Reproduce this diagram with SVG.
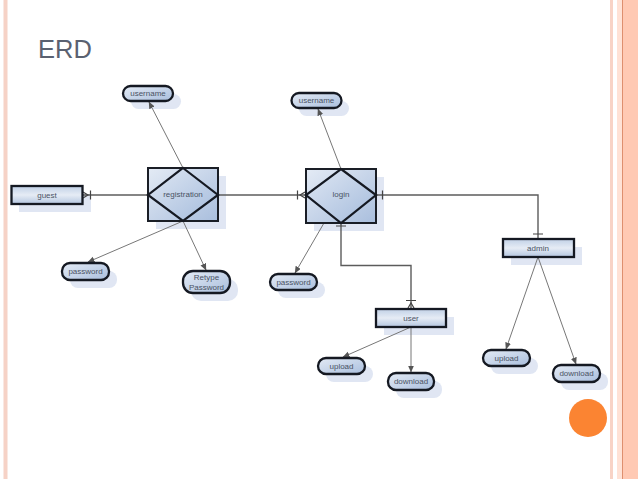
<svg xmlns="http://www.w3.org/2000/svg" width="638" height="479" viewBox="0 0 638 479">
<defs>
<linearGradient id="g" x1="0" y1="0" x2="1" y2="1"><stop offset="0" stop-color="#e4ebf5"/><stop offset="1" stop-color="#a9bedd"/></linearGradient>
<linearGradient id="gb" x1="0" y1="0" x2="0" y2="1"><stop offset="0" stop-color="#c0d0e6"/><stop offset="0.5" stop-color="#e6ecf5"/><stop offset="1" stop-color="#b4c6e0"/></linearGradient>
<linearGradient id="gd" x1="0" y1="0" x2="1" y2="1"><stop offset="0" stop-color="#dfe7f3"/><stop offset="1" stop-color="#a4bbdc"/></linearGradient>
<marker id="arr" markerWidth="8" markerHeight="8" refX="6.500" refY="3" orient="auto" markerUnits="userSpaceOnUse"><path d="M0,0L7,3L0,6Z" fill="#555"/></marker>
</defs>
<style>
text{font-family:"Liberation Sans",Arial,sans-serif;fill:#4a5364;font-size:8px;text-anchor:middle}
.sh{fill:#e0e6f3}
.ent{fill:url(#gb);stroke:#151922;stroke-width:2.300}
.att{fill:url(#g);stroke:#151922;stroke-width:2.300}
.box{fill:url(#g);stroke:#1a1e26;stroke-width:2}
.dia{fill:url(#gd);stroke:#151922;stroke-width:2.200}
.c{fill:none;stroke:#777;stroke-width:1}
.d{fill:none;stroke:#5c5c5c;stroke-width:1.400}
.t{fill:none;stroke:#444;stroke-width:1.200}
</style>
<rect width="638" height="479" fill="#fff"/>
<g id="frame">
<rect x="3.500" y="0" width="4" height="479" fill="#f6d2c6"/>
<rect x="610" y="0" width="3" height="479" fill="#f8d3c6"/>
<rect x="617" y="0" width="5" height="479" fill="#ffe2d6"/>
<rect x="623" y="0" width="15" height="479" fill="#ffc9b3"/>
<rect x="622" y="0" width="1" height="479" fill="#de8f6e"/>
<circle cx="588" cy="418" r="19" fill="#fb8432"/>
</g>
<text id="title" x="38" y="58" style="font-size:25.500px;text-anchor:start;fill:#5a6170">ERD</text>
<g id="shadows">
<rect class="sh" x="19" y="194" width="72" height="18"/>
<rect class="sh" x="156" y="176" width="70" height="53"/>
<rect class="sh" x="314" y="177" width="70" height="54"/>
<rect class="sh" x="131" y="94" width="50" height="15" rx="7.500"/>
<rect class="sh" x="299" y="101" width="50" height="15" rx="7.500"/>
<rect class="sh" x="70" y="271" width="47" height="17" rx="8"/>
<rect class="sh" x="191" y="279" width="47" height="22" rx="10"/>
<rect class="sh" x="278" y="282" width="47" height="16" rx="8"/>
<rect class="sh" x="384" y="317" width="70" height="18"/>
<rect class="sh" x="511" y="247" width="71" height="18"/>
<rect class="sh" x="326" y="366" width="47" height="16" rx="8"/>
<rect class="sh" x="396" y="381" width="46" height="17" rx="8"/>
<rect class="sh" x="491" y="358" width="47" height="16" rx="8"/>
<rect class="sh" x="561" y="373" width="47" height="17" rx="8"/>
</g>
<g id="connectors">
<path class="c" d="M183 168L149 102" marker-end="url(#arr)"/>
<path class="c" d="M183 221L88 262" marker-end="url(#arr)"/>
<path class="c" d="M183 221L206 270" marker-end="url(#arr)"/>
<path class="c" d="M341 169L318 109" marker-end="url(#arr)"/>
<path class="c" d="M324 223L295 273" marker-end="url(#arr)"/>
<path class="c" d="M411 327L343 357" marker-end="url(#arr)"/>
<path class="c" d="M411 327L411 372" marker-end="url(#arr)"/>
<path class="c" d="M538 257L506 349" marker-end="url(#arr)"/>
<path class="c" d="M538 257L576 364" marker-end="url(#arr)"/>
<path class="d" d="M82 195H148"/>
<path class="t" d="M90.500 190.500V199.500M83 192L88 195L83 198"/>
<path class="d" d="M218 195H306"/>
<path class="t" d="M297.500 190.500V199.500M305 192L300 195L305 198"/>
<path class="d" d="M376 195H538V239"/>
<path class="t" d="M382.500 190.500V199.500M533 234H543"/>
<path class="d" d="M341 223V265.500H411V309"/>
<path class="t" d="M336 226H346M406 300.500H416M408 308L411 303L414 308"/>
</g>
<g id="guest"><rect class="ent" x="11.500" y="186" width="71" height="18"/><text x="47" y="198">guest</text></g>
<g id="registration"><rect class="box" x="148" y="168" width="70" height="53"/><path class="dia" d="M183 168L218 195L183 221L148 195Z"/><text x="183" y="197">registration</text></g>
<g id="login"><rect class="box" x="306" y="169" width="70" height="54"/><path class="dia" d="M341 169L376 195L341 223L306 195Z"/><text x="341" y="197">login</text></g>
<g id="username1"><rect class="att" x="123" y="86" width="50" height="15" rx="7.500"/><text x="148" y="96">username</text></g>
<g id="username2"><rect class="att" x="291.500" y="93" width="50" height="15" rx="7.500"/><text x="316.500" y="103">username</text></g>
<g id="password1"><rect class="att" x="62" y="263" width="47" height="17" rx="8"/><text x="85.500" y="274">password</text></g>
<g id="retype"><rect class="att" x="183" y="271" width="47" height="22" rx="10"/><text x="206.500" y="280">Retype</text><text x="206.500" y="290">Password</text></g>
<g id="password2"><rect class="att" x="270" y="274" width="47" height="16" rx="8"/><text x="293.500" y="285">password</text></g>
<g id="user"><rect class="ent" x="376" y="309" width="70" height="18"/><text x="411" y="321">user</text></g>
<g id="admin"><rect class="ent" x="503" y="239" width="71" height="18"/><text x="538" y="251">admin</text></g>
<g id="upload1"><rect class="att" x="318" y="358" width="47" height="16" rx="8"/><text x="341.500" y="369">upload</text></g>
<g id="download1"><rect class="att" x="388" y="373" width="46" height="17" rx="8"/><text x="411" y="384">download</text></g>
<g id="upload2"><rect class="att" x="483" y="350" width="47" height="16" rx="8"/><text x="506.500" y="361">upload</text></g>
<g id="download2"><rect class="att" x="553" y="365" width="47" height="17" rx="8"/><text x="576.500" y="376">download</text></g>
</svg>
